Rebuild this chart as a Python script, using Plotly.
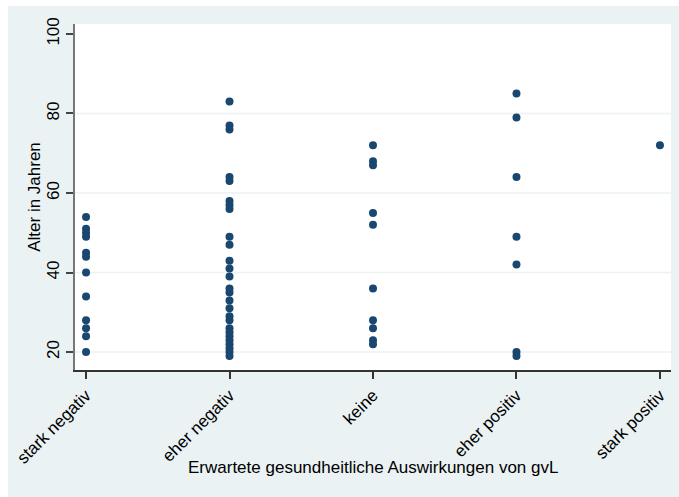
import plotly.graph_objects as go

# Categories of expected health effects (x axis, coded 1..5)
categories = ["stark negativ", "eher negativ", "keine", "eher positiv", "stark positiv"]

# Age in years of each respondent, grouped by category
ages_stark_negativ = [54, 51, 50, 49, 45, 44, 40, 34, 28, 26, 24, 20]
ages_eher_negativ = [83, 77, 76, 64, 63, 58, 57, 56, 49, 47, 43, 41, 39, 36, 35, 33,
                     31, 29, 28, 26, 25, 24, 23, 22, 21, 20, 19]
ages_keine = [72, 68, 67, 55, 52, 36, 28, 26, 23, 22]
ages_eher_positiv = [85, 79, 64, 49, 42, 20, 19]
ages_stark_positiv = [72]

y_ticks = [20, 40, 60, 80, 100]
grid_levels = [20, 40, 60, 80]

x_title = "Erwartete gesundheitliche Auswirkungen von gvL"
y_title = "Alter in Jahren"

groups = [ages_stark_negativ, ages_eher_negativ, ages_keine,
          ages_eher_positiv, ages_stark_positiv]
xs, ys = [], []
for code, ages in enumerate(groups, start=1):
    xs += [code] * len(ages)
    ys += ages

BG = "#EAF2F3"
FONT = "Liberation Sans, Arial, sans-serif"

fig = go.Figure()
fig.add_trace(go.Scatter(
    x=xs, y=ys, mode="markers",
    marker=dict(color="#1a476f", size=8, line=dict(width=0)),
    showlegend=False, hoverinfo="x+y",
))

shapes = []
# horizontal grid lines
for g in grid_levels:
    shapes.append(dict(type="line", xref="paper", yref="y", x0=0, x1=1, y0=g, y1=g,
                       line=dict(color=BG, width=1.5), layer="below"))
# thin white border at the top and left of the graph region
shapes.append(dict(type="rect", xref="paper", yref="paper",
                   x0=-0.2, x1=1.1, y0=1.052, y1=1.2,
                   fillcolor="white", line=dict(width=0), layer="below"))
shapes.append(dict(type="rect", xref="paper", yref="paper",
                   x0=-0.2, x1=-0.1124, y0=-0.5, y1=1.2,
                   fillcolor="white", line=dict(width=0), layer="below"))

fig.update_layout(
    width=679, height=497,
    margin=dict(l=75, r=8, t=24, b=127),
    paper_bgcolor=BG, plot_bgcolor="white",
    font=dict(family=FONT, size=17, color="#000000"),
    shapes=shapes,
    annotations=[dict(text=x_title, xref="paper", yref="paper", x=0.5, y=-0.283,
                      xanchor="center", yanchor="middle", showarrow=False,
                      font=dict(size=17))],
    xaxis=dict(
        range=[0.923, 5.077],
        tickmode="array", tickvals=[1, 2, 3, 4, 5], ticktext=categories,
        tickangle=-45, ticks="outside", ticklen=7, tickwidth=1.5, tickcolor="#333333",
        tickfont=dict(size=17),
        showline=True, linecolor="#333333", linewidth=1.5,
        showgrid=False, zeroline=False,
        automargin=False,
    ),
    yaxis=dict(
        range=[15.5, 102.5],
        tickmode="array", tickvals=y_ticks,
        tickangle=-90, ticks="outside", ticklen=7, tickwidth=1.5, tickcolor="#444444",
        tickfont=dict(size=17),
        showline=True, linecolor="#777777", linewidth=1.5,
        showgrid=False, zeroline=False,
        title=dict(text=y_title, font=dict(size=17), standoff=0),
        automargin=False,
    ),
)

fig.write_html("out.html")
